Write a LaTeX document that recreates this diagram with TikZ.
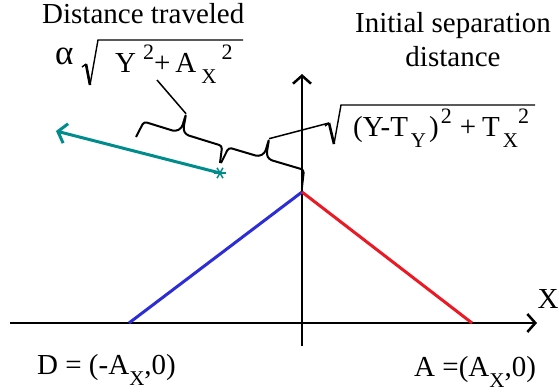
\documentclass[tikz,border=0pt]{standalone}
\usepackage{fontspec}
\setmainfont{Liberation Serif}
\usepackage{tikz}
\usetikzlibrary{arrows.meta, positioning, calc}
\definecolor{walkteal}{RGB}{0, 140, 140}
\definecolor{leftblue}{RGB}{45, 45, 215}
\definecolor{rightred}{RGB}{235, 25, 35}

% index helpers
\newcommand{\lowidx}[1]{\raisebox{-0.4em}{\fontsize{21}{21}\selectfont #1}}
\newcommand{\highidx}[1]{\raisebox{0.42em}{\fontsize{22}{22}\selectfont #1}}

% curly brace between two points, bulging upwards
\newcommand{\bracebetween}[2]{%
    \draw[bracepath] (#1)
        -- ($(#1)!3pt!(#2)!17pt!90:(#2)$)
        -- ($(#1)!0.5!(#2)!-8pt!(#2)!17pt!90:(#2)$)
        -- ($(#1)!0.5!(#2)!-3pt!(#2)!22pt!90:(#2)$)
        -- ($(#1)!0.5!(#2)!-3pt!(#2)!37pt!90:(#2)$)
        -- ($(#1)!0.5!(#2)!-1pt!(#2)!21pt!90:(#2)$)
        -- ($(#1)!0.5!(#2)!3pt!(#2)!17pt!90:(#2)$)
        -- ($(#2)!3pt!(#1)!17pt!-90:(#1)$)
        -- (#2);}

\tikzset{
    axisline/.style={line width=2.5pt, -{Straight Barb[length=8pt, width=18pt]}},
    walkline/.style={line width=3pt, walkteal, -{Straight Barb[length=8pt, width=20pt]}},
    bracepath/.style={line width=2pt, rounded corners=3pt, line join=round},
    radical/.style={line width=1.4pt, line join=miter},
    radicalstem/.style={line width=2.6pt},
    leader/.style={line width=1.5pt},
    formula/.style={inner sep=0pt, anchor=base west}
}

\begin{document}
\begin{tikzpicture}[x=1pt, y=-1pt, font=\fontsize{29}{34}\selectfont]
    \useasboundingbox (0,0) rectangle (559,391);

    % Points
    \coordinate (xleft) at (10,323);
    \coordinate (xright) at (537,323);
    \coordinate (ybottom) at (302,346);
    \coordinate (ytop) at (302,74);
    \coordinate (peak) at (302,192);
    \coordinate (dpoint) at (129,323);
    \coordinate (apoint) at (472,323);
    \coordinate (star) at (220,173);
    \coordinate (walkend) at (56,131);

    % Axes
    \draw[axisline] (xleft) -- (xright);
    \draw[axisline] (ybottom) -- (ytop);

    % Paths to the peak
    \draw[line width=3pt, leftblue] (dpoint) -- (peak);
    \draw[line width=3pt, rightred] (peak) -- (apoint);

    % Travel arrow
    \draw[walkline] (star) -- (walkend);
    \foreach \ang in {0,60,120}
        \draw[walkteal, line width=1.5pt] ($(star)+(\ang:6)$) -- ($(star)+(\ang+180:6)$);

    % Braces
    \coordinate (brace1start) at (136,137);
    \coordinate (brace1end) at (220,163);
    \coordinate (brace2start) at (221,163);
    \coordinate (brace2end) at (302,187);
    \bracebetween{brace1start}{brace1end}
    \bracebetween{brace2start}{brace2end}
    \coordinate (brace1tip) at ($(brace1start)!0.5!(brace1end)!-3pt!(brace1end)!37pt!90:(brace1end)$);
    \coordinate (brace2tip) at ($(brace2start)!0.5!(brace2end)!-3pt!(brace2end)!37pt!90:(brace2end)$);

    % Labels
    \node[formula] (traveled) at (42,23) {Distance traveled};
    \node[formula, font=\fontsize{35}{35}\selectfont] (alpha) at (55,64) {α};
    \node[formula] (walkformula) at (115,72)
        {Y\kern7pt\highidx{2}+\kern5pt A\kern5pt\lowidx{X}\kern5pt\highidx{2}};
    \node[align=center] (separation) at (453,40) {Initial separation\\distance};
    \node[formula] (sepformula) at (353,136)
        {(Y-T\kern3pt\lowidx{Y}\kern3pt)\kern2pt\highidx{2}\kern8pt+\kern6pt T\kern3pt\lowidx{X}\highidx{2}};
    \node (xlabel) at (548,299) {X};
    \node[formula] (dlabel) at (37,374) {D = (-A\lowidx{X},0)};
    \node[formula] (alabel) at (414,376) {A =(A\lowidx{X},0)};

    % Radicals
    \draw[radical] (82,67) -- (86,64);
    \draw[radicalstem] (86,64) -- (90,85);
    \draw[radical] (90,85) -- (98,40) -- (243,40);
    \draw[radical] (325,126) -- (329,123);
    \draw[radicalstem] (329,123) -- (334,144);
    \draw[radical] (334,144) -- (341,105) -- (535,105);

    % Leaders
    \coordinate (walklead) at (157,80);
    \coordinate (seplead) at (329,123);
    \draw[leader] (brace1tip) -- (walklead);
    \draw[leader] (brace2tip) -- (seplead);
\end{tikzpicture}
\end{document}
